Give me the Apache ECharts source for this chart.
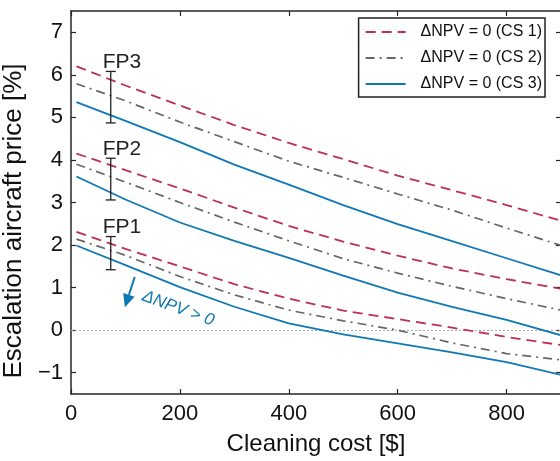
<!DOCTYPE html>
<html>
<head>
<meta charset="utf-8">
<script src="https://cdn.jsdelivr.net/npm/echarts@6/dist/echarts.min.js"></script>
<style>
  html, body { margin: 0; padding: 0; background: #fff; }
  #chart { width: 560px; height: 461px; }
</style>
</head>
<body>
<div id="chart"></div>
<script>
// ---------- data ----------
const xs = [10, 100, 200, 300, 400, 500, 600, 700, 800, 900];

const fp3cs1 = [6.20, 5.75, 5.28, 4.82, 4.40, 4.02, 3.63, 3.29, 2.94, 2.57];
const fp3cs2 = [5.79, 5.39, 4.89, 4.43, 3.97, 3.59, 3.20, 2.82, 2.40, 1.99];
const fp3cs3 = [5.36, 4.92, 4.42, 3.89, 3.42, 2.94, 2.49, 2.09, 1.69, 1.29];

const fp2cs1 = [4.15, 3.76, 3.33, 2.88, 2.45, 2.08, 1.75, 1.45, 1.20, 0.97];
const fp2cs2 = [3.90, 3.48, 3.00, 2.54, 2.10, 1.68, 1.34, 1.03, 0.74, 0.47];
const fp2cs3 = [3.61, 3.07, 2.53, 2.10, 1.70, 1.28, 0.88, 0.55, 0.24, -0.12];

const fp1cs1 = [2.31, 1.91, 1.50, 1.08, 0.74, 0.46, 0.26, 0.06, -0.16, -0.35];
const fp1cs2 = [2.14, 1.76, 1.26, 0.83, 0.47, 0.22, 0.00, -0.30, -0.55, -0.70];
const fp1cs3 = [1.99, 1.53, 1.01, 0.55, 0.16, -0.10, -0.31, -0.52, -0.75, -1.05];

const seriesNames = ['ΔNPV = 0 (CS 1)', 'ΔNPV = 0 (CS 2)', 'ΔNPV = 0 (CS 3)'];

// error bars (FP ranges)
const fpLabels = ['FP3', 'FP2', 'FP1'];
const errX     = [73, 73, 73];
const errLow   = [4.87, 3.06, 1.42];
const errHigh  = [6.08, 4.04, 2.20];

// annotation arrow + text
const arrowFrom = [117, 1.25];
const arrowTo   = [99, 0.54];
const annoText  = 'ΔNPV > 0';
const annoPos   = [197, 0.51];

const xTicks = [0, 200, 400, 600, 800];
const yTicks = [-1, 0, 1, 2, 3, 4, 5, 6, 7];

// ---------- styles ----------
const FONT = "'Liberation Sans', Arial, Helvetica, sans-serif";
const RED = '#be2f52';
const GRAY = '#666666';
const BLUE = '#0f78b4';
const AXIS = '#262626';

const styleByCs = [
  { color: RED,  lineStyle: { color: RED,  width: 1.8, type: [10, 6] } },
  { color: GRAY, lineStyle: { color: GRAY, width: 1.7, type: [9, 5, 2, 5] } },
  { color: BLUE, lineStyle: { color: BLUE, width: 1.8, type: 'solid' } }
];

function toPairs(vals) { return xs.map((x, i) => [x, vals[i]]); }

function lineSeries(vals, cs, extra) {
  return Object.assign({
    type: 'line',
    name: seriesNames[cs],
    data: toPairs(vals),
    symbol: 'none',
    showSymbol: false,
    smooth: false,
    color: styleByCs[cs].color,
    lineStyle: styleByCs[cs].lineStyle,
    z: 3
  }, extra || {});
}

const fmtY = v => (v < 0 ? '\u2212' + Math.abs(v) : String(v));

const axisLineStyle = { show: true, onZero: false, lineStyle: { color: AXIS, width: 1.5 } };

const option = {
  backgroundColor: '#ffffff',
  animation: false,
  textStyle: { fontFamily: FONT },
  grid: { left: 71, right: -1, top: 11, bottom: 67, containLabel: false, outerBoundsMode: 'none' },
  legend: {
    data: seriesNames,
    orient: 'vertical',
    right: 15,
    top: 18,
    itemWidth: 40,
    itemHeight: 12,
    itemGap: 10,
    padding: [6, 3, 5, 6],
    borderColor: '#222',
    borderWidth: 1.5,
    backgroundColor: '#ffffff',
    selectedMode: false,
    itemStyle: { opacity: 0 },
    textStyle: { fontSize: 16, color: '#111', fontFamily: FONT, lineHeight: 16, padding: [0, 0, 0, 10] }
  },
  xAxis: [
    {
      type: 'value', min: 0, max: 900, position: 'bottom',
      name: 'Cleaning cost [$]', nameLocation: 'middle', nameGap: 38,
      nameTextStyle: { fontSize: 24, color: '#111', fontFamily: FONT },
      axisLine: axisLineStyle,
      axisTick: { show: true, inside: true, length: 5, customValues: xTicks, lineStyle: { color: AXIS, width: 1.2 } },
      axisLabel: { customValues: xTicks, fontSize: 22, color: '#111', margin: 9, fontFamily: FONT },
      splitLine: { show: false }
    },
    {
      type: 'value', min: 0, max: 900, position: 'top',
      axisLine: axisLineStyle,
      axisTick: { show: true, inside: true, length: 5, customValues: xTicks, lineStyle: { color: AXIS, width: 1.2 } },
      axisLabel: { show: false },
      splitLine: { show: false }
    }
  ],
  yAxis: [
    {
      type: 'value', min: -1.5, max: 7.5, position: 'left',
      name: 'Escalation aircraft price [%]', nameLocation: 'middle', nameGap: 35,
      nameTextStyle: { fontSize: 26, color: '#111', fontFamily: FONT, padding: [0, 37, 0, 0] },
      axisLine: axisLineStyle,
      axisTick: { show: true, inside: true, length: 5, customValues: yTicks, lineStyle: { color: AXIS, width: 1.2 } },
      axisLabel: { customValues: yTicks, fontSize: 22, color: '#111', margin: 8, fontFamily: FONT, formatter: fmtY },
      splitLine: { show: false }
    },
    {
      type: 'value', min: -1.5, max: 7.5, position: 'right',
      axisLine: axisLineStyle,
      axisTick: { show: true, inside: true, length: 5, customValues: yTicks, lineStyle: { color: AXIS, width: 1.2 } },
      axisLabel: { show: false },
      splitLine: { show: false }
    }
  ],
  series: [
    lineSeries(fp3cs1, 0, {
      markLine: {
        silent: true, symbol: 'none', label: { show: false },
        lineStyle: { color: '#a8a8a8', type: [2, 2], width: 1 },
        data: [{ yAxis: 0 }], z: 1
      }
    }),
    lineSeries(fp3cs2, 1),
    lineSeries(fp3cs3, 2),
    lineSeries(fp2cs1, 0),
    lineSeries(fp2cs2, 1),
    lineSeries(fp2cs3, 2),
    lineSeries(fp1cs1, 0),
    lineSeries(fp1cs2, 1),
    lineSeries(fp1cs3, 2),
    {
      type: 'custom',
      name: 'errorbars',
      data: errX.map((x, i) => [x, errLow[i], errHigh[i]]),
      encode: { x: 0, y: [1, 2] },
      clip: false,
      z: 5,
      renderItem: function (params, api) {
        const x = api.value(0), lo = api.value(1), hi = api.value(2);
        const pt = api.coord([x, hi]);
        const pb = api.coord([x, lo]);
        const cw = 5;
        const st = { stroke: '#222', lineWidth: 1.3 };
        return {
          type: 'group',
          children: [
            { type: 'line', shape: { x1: pt[0], y1: pt[1], x2: pb[0], y2: pb[1] }, style: st },
            { type: 'line', shape: { x1: pt[0] - cw, y1: pt[1], x2: pt[0] + cw, y2: pt[1] }, style: st },
            { type: 'line', shape: { x1: pb[0] - cw, y1: pb[1], x2: pb[0] + cw, y2: pb[1] }, style: st },
            {
              type: 'text', x: pt[0] - 8, y: pt[1] + 1,
              style: {
                text: fpLabels[params.dataIndex], fontSize: 21, fontFamily: FONT,
                fill: '#222', align: 'left', verticalAlign: 'bottom'
              }
            }
          ]
        };
      }
    },
    {
      type: 'custom',
      name: 'annotation',
      data: [[arrowFrom[0], arrowFrom[1], arrowTo[0], arrowTo[1], annoPos[0], annoPos[1]]],
      encode: { x: [0, 2], y: [1, 3] },
      clip: false,
      z: 5,
      renderItem: function (params, api) {
        const p1 = api.coord([api.value(0), api.value(1)]);
        const p2 = api.coord([api.value(2), api.value(3)]);
        const tp = api.coord([api.value(4), api.value(5)]);
        const dx = p2[0] - p1[0], dy = p2[1] - p1[1];
        const len = Math.sqrt(dx * dx + dy * dy);
        const ux = dx / len, uy = dy / len;
        const hl = 13, hw = 6;
        const bx = p2[0] - ux * hl, by = p2[1] - uy * hl;
        const px = -uy, py = ux;
        return {
          type: 'group',
          children: [
            { type: 'line', shape: { x1: p1[0], y1: p1[1], x2: bx, y2: by }, style: { stroke: BLUE, lineWidth: 2 } },
            {
              type: 'polygon',
              shape: { points: [[p2[0], p2[1]], [bx + px * hw, by + py * hw], [bx - px * hw, by - py * hw]] },
              style: { fill: BLUE }
            },
            {
              type: 'text', x: tp[0], y: tp[1], rotation: -0.35,
              style: {
                text: annoText, fontSize: 17, fontStyle: 'italic', fontFamily: FONT,
                fill: BLUE, align: 'center', verticalAlign: 'middle'
              }
            }
          ]
        };
      }
    }
  ]
};

const chart = echarts.init(document.getElementById('chart'), null, { renderer: 'canvas' });
chart.setOption(option);
</script>
</body>
</html>
